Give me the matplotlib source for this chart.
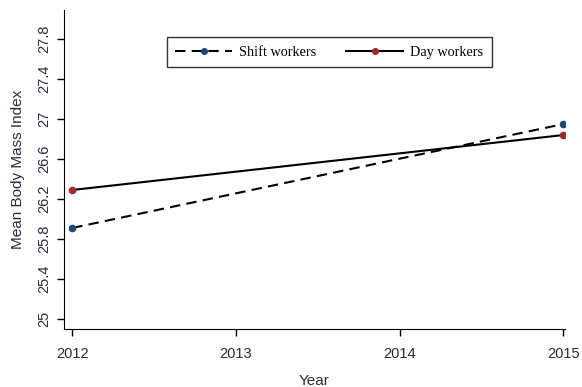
import matplotlib
matplotlib.use("Agg")
import matplotlib.pyplot as plt

years = [2012, 2015]
shift_bmi = [25.91, 26.95]
day_bmi = [26.29, 26.84]
xticks = [2012, 2013, 2014, 2015]
yticks = [25, 25.4, 25.8, 26.2, 26.6, 27, 27.4, 27.8]
ytick_labels = ['25', '25.4', '25.8', '26.2', '26.6', '27', '27.4', '27.8']

plt.rcParams['font.family'] = ['Liberation Sans', 'DejaVu Sans']

fig = plt.figure(figsize=(5.82, 3.87), dpi=100)
ax = fig.add_axes([0.110, 0.150, 0.861, 0.824])

ax.plot(years, shift_bmi, color='black', linestyle=(0, (5, 3)), linewidth=1.5,
        marker='o', markersize=4.5, markerfacecolor='#1b4a7a', markeredgecolor='#1b4a7a',
        label='Shift workers')
ax.plot(years, day_bmi, color='black', linestyle='-', linewidth=1.5,
        marker='o', markersize=4.5, markerfacecolor='#a3282e', markeredgecolor='#a3282e',
        label='Day workers')

ax.set_xlim(2011.95, 2015.01)
ax.set_ylim(24.9, 28.09)
ax.set_xticks(xticks)
ax.set_yticks(yticks)
ax.set_yticklabels(ytick_labels, rotation=90, va='center')
ax.tick_params(axis='both', labelsize=10.5, labelcolor='#2a2a3a', length=5, width=1)
ax.tick_params(axis='x', pad=8)
ax.tick_params(axis='y', pad=4)
ax.spines['top'].set_visible(False)
ax.spines['right'].set_visible(False)

ax.set_xlabel('Year', fontsize=11, color='#2a2a3a', labelpad=9)
ax.set_ylabel('Mean Body Mass Index', fontsize=11, color='#2a2a3a', labelpad=9)

leg = ax.legend(loc='upper center', bbox_to_anchor=(0.529, 0.937), ncol=2, frameon=True,
                fancybox=False, edgecolor='black', handlelength=4.0, columnspacing=2.1,
                handletextpad=0.45, prop={'family': 'Liberation Serif', 'size': 10.3},
                borderpad=0.6, markerscale=0.9)
leg.get_frame().set_linewidth(1.0)

fig.savefig('out.png', dpi=100)
